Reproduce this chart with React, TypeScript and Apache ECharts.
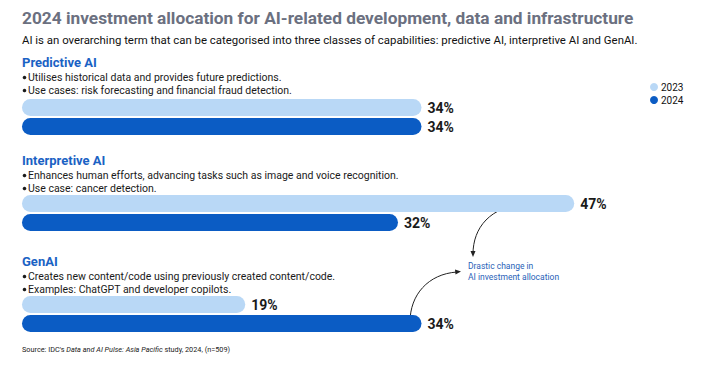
import React, { useEffect, useRef } from "react";
import * as echarts from "echarts";

const years = ["2023", "2024"];
const groups = ["Predictive AI", "Interpretive AI", "GenAI"];
const values2023 = [34, 47, 19];
const values2024 = [34, 32, 34];
const bullets = [
  ["Utilises historical data and provides future predictions.", "Use cases: risk forecasting and financial fraud detection."],
  ["Enhances human efforts, advancing tasks such as image and voice recognition.", "Use case: cancer detection."],
  ["Creates new content/code using previously created content/code.", "Examples: ChatGPT and developer copilots."],
];
const titleText = "2024 investment allocation for AI-related development, data and infrastructure";
const subtitleText = "AI is an overarching term that can be categorised into three classes of capabilities: predictive AI, interpretive AI and GenAI.";
const annotation = ["Drastic change in", "AI investment allocation"];

const LIGHT = "#b9d8f6";
const DARK = "#0b5cc4";
const HEAD = "#1a62c4";
const FONT = "Roboto, 'Liberation Sans', Arial, sans-serif";

export default function App() {
  const ref = useRef<HTMLDivElement>(null);
  useEffect(() => {
    if (!ref.current) return;
    const chart = echarts.init(ref.current, null, { renderer: "svg" });
    const gridTops = [98, 194, 295];
    const headY = [62, 160, 261];
    const grids = gridTops.map((t) => ({ left: 22, top: t, width: 587.5, height: 38 }));
    const xAxes = gridTops.map((_, i) => ({ type: "value", gridIndex: i, min: 0, max: 50, show: false }));
    const yAxes = gridTops.map((_, i) => ({ type: "category", gridIndex: i, data: years, inverse: true, show: false }));
    const label = {
      show: true,
      position: "right",
      distance: 6,
      formatter: "{c}%",
      fontFamily: FONT,
      fontWeight: "bold",
      fontSize: 14,
      color: "#1a1a1a",
    };
    const series: any[] = [];
    groups.forEach((_, i) => {
      series.push({
        name: "2023",
        type: "bar",
        xAxisIndex: i,
        yAxisIndex: i,
        stack: "s" + i,
        barWidth: 17,
        data: [values2023[i], "-"],
        itemStyle: { color: LIGHT, borderRadius: 9 },
        label,
      });
      series.push({
        name: "2024",
        type: "bar",
        xAxisIndex: i,
        yAxisIndex: i,
        stack: "s" + i,
        barWidth: 17,
        data: ["-", values2024[i]],
        itemStyle: { color: DARK, borderRadius: 9 },
        label,
      });
    });

    const graphics: any[] = [
      {
        type: "text",
        x: 22,
        y: 18,
        style: { text: titleText, fill: "#6b7080", font: `bold 17.3px ${FONT}`, verticalAlign: "middle" },
      },
      {
        type: "text",
        x: 22,
        y: 40,
        style: { text: subtitleText, fill: "#111", font: `11.4px ${FONT}`, verticalAlign: "middle" },
      },
    ];
    groups.forEach((g, i) => {
      graphics.push({
        type: "text",
        x: 22,
        y: headY[i],
        style: { text: g, fill: HEAD, font: `bold 13px ${FONT}`, verticalAlign: "middle" },
      });
      bullets[i].forEach((b, j) => {
        const yy = headY[i] + 15 + j * 13;
        graphics.push({
          type: "circle",
          shape: { cx: 24.5, cy: yy + 0.5, r: 1.8 },
          style: { fill: "#1a1a1a" },
        });
        graphics.push({
          type: "text",
          x: 28,
          y: yy,
          style: { text: b, fill: "#1a1a1a", font: `10.5px ${FONT}`, verticalAlign: "middle" },
        });
      });
    });
    annotation.forEach((t, j) => {
      graphics.push({
        type: "text",
        x: 468,
        y: 266 + j * 11,
        style: { text: t, fill: "#2a5fb8", font: `8.5px ${FONT}`, verticalAlign: "middle" },
      });
    });
    graphics.push({
      type: "bezierCurve",
      shape: { x1: 526, y1: 204, cpx1: 490, cpy1: 206, cpx2: 473, cpy2: 228, x2: 473, y2: 254 },
      style: { stroke: "#222", lineWidth: 1, fill: "none" },
    });
    graphics.push({
      type: "polygon",
      shape: { points: [[470.5, 251], [475.5, 251], [473, 257]] },
      style: { fill: "#222" },
    });
    graphics.push({
      type: "bezierCurve",
      shape: { x1: 410, y1: 322, cpx1: 410, cpy1: 295, cpx2: 428, cpy2: 274, x2: 457, y2: 272 },
      style: { stroke: "#222", lineWidth: 1, fill: "none" },
    });
    graphics.push({
      type: "polygon",
      shape: { points: [[455, 269.5], [455.5, 274.5], [461, 271.5]] },
      style: { fill: "#222" },
    });
    graphics.push({
      type: "text",
      x: 22,
      y: 349,
      style: {
        text: "Source: IDC's {i|Data and AI Pulse: Asia Pacific} study, 2024, (n=509)",
        fill: "#222",
        font: `7.3px ${FONT}`,
        verticalAlign: "middle",
        rich: { i: { fontStyle: "italic", fontSize: 7.3, fontFamily: FONT, fill: "#222" } },
      },
    });

    chart.setOption({
      animation: false,
      backgroundColor: "#ffffff",
      legend: {
        data: years,
        orient: "vertical",
        left: 645,
        top: 77,
        icon: "circle",
        itemWidth: 8,
        itemHeight: 8,
        itemGap: 3,
        textStyle: { fontFamily: FONT, fontSize: 10, color: "#111", padding: [0, 0, 0, -2] },
        selectedMode: false,
      },
      grid: grids,
      xAxis: xAxes,
      yAxis: yAxes,
      series,
      graphic: graphics,
    });
    return () => chart.dispose();
  }, []);
  return <div ref={ref} style={{ width: 711, height: 367, position: "absolute", left: 0, top: 0 }} />;
}
